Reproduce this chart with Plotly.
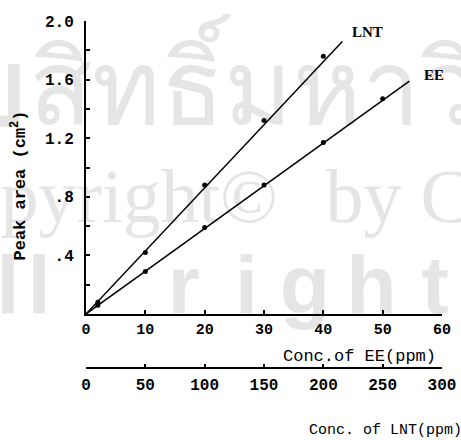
import plotly.graph_objects as go

# ---- data ----
ee_conc = [2, 10, 20, 30, 40, 50]                 # ppm EE
ee_area = [0.06, 0.29, 0.59, 0.88, 1.17, 1.47]     # cm^2
lnt_conc = [10, 50, 100, 150, 200]                # ppm LNT
lnt_area = [0.08, 0.42, 0.88, 1.32, 1.76]          # cm^2
ee_fit_x = [0, 54.5]
ee_fit_y = [0, 1.59]
lnt_fit_x = [0, 216]
lnt_fit_y = [0, 1.86]

ee_ticks = [0, 10, 20, 30, 40, 50, 60]
lnt_ticks = [0, 50, 100, 150, 200, 250, 300]
y_ticks = [0.4, 0.8, 1.2, 1.6, 2.0]
y_ticktext = [".4", ".8", "1.2", "1.6", "2.0"]

W, H = 461, 440
L, R, T, B = 86, 11, 21, 5
PH = H - T - B
def py(p):  # pixel row -> paper fraction
    return (H - B - p) / PH
def px(p):  # pixel column -> paper fraction
    return (p - L) / (W - L - R)

MONO = "Liberation Mono"
WM = "#e5e5e5"

fig = go.Figure()
line = dict(color="black", width=1.5)
mk = dict(color="black", size=5)
fig.add_trace(go.Scatter(x=ee_fit_x, y=ee_fit_y, mode="lines", line=line, xaxis="x", yaxis="y"))
fig.add_trace(go.Scatter(x=ee_conc, y=ee_area, mode="markers", marker=mk, xaxis="x", yaxis="y"))
fig.add_trace(go.Scatter(x=lnt_fit_x, y=lnt_fit_y, mode="lines", line=line, xaxis="x2", yaxis="y"))
fig.add_trace(go.Scatter(x=lnt_conc, y=lnt_area, mode="markers", marker=mk, xaxis="x2", yaxis="y"))

# faint scanned watermark, drawn beneath everything as labels of invisible shapes
def wm(text, x, y, xanchor, family, size, weight="normal"):
    fig.add_shape(type="rect", xref="paper", yref="paper",
                  x0=px(x), x1=px(x), y0=py(y), y1=py(y),
                  line=dict(width=0), fillcolor="rgba(0,0,0,0)", layer="below",
                  label=dict(text=text, textposition="middle center", xanchor=xanchor,
                             yanchor="middle", padding=0,
                             font=dict(family=family, size=size, color=WM, weight=weight)))

wm("ลิข", 26, 90, "right", "Noto Sans", 104, "bold")
wm("สิทธิ์มหาวิทยาลัยเชียงใหม่", 28, 90, "left", "Noto Sans", 104)
wm("Copyright©", 282, 188, "right", "Liberation Serif", 76)
wm("by Chiang Mai University", 331, 188, "left", "Liberation Serif", 76)
for ch, cx in [("l", 6), ("l", 38), ("r", 186), ("i", 250), ("g", 310), ("h", 378), ("t", 443)]:
    wm(ch, cx, 276, "center", "Liberation Sans", 82, "bold")

ann = []
# series labels
ann.append(dict(text="LNT", xref="x", yref="y", x=47.4, y=1.925, showarrow=False,
                xanchor="center", yanchor="middle",
                font=dict(family="Liberation Serif", size=15, weight="bold", color="black")))
ann.append(dict(text="EE", xref="x", yref="y", x=58.6, y=1.63, showarrow=False,
                xanchor="center", yanchor="middle",
                font=dict(family="Liberation Serif", size=15, weight="bold", color="black")))
# axis titles
ann.append(dict(text="Peak area (cm<sup>2</sup>)", xref="paper", yref="paper", x=px(17), y=py(186),
                textangle=-90, showarrow=False, xanchor="center", yanchor="middle",
                font=dict(family=MONO, size=17, weight="bold", color="black")))
ann.append(dict(text="Conc.of EE(ppm)", xref="paper", yref="paper", x=px(446), y=py(356),
                xanchor="right", yanchor="middle", showarrow=False,
                font=dict(family=MONO, size=17, color="black")))
ann.append(dict(text="Conc. of LNT(ppm)", xref="paper", yref="paper", x=px(473), y=py(430),
                xanchor="right", yanchor="middle", showarrow=False,
                font=dict(family=MONO, size=15, color="black")))

fig.update_layout(
    width=W, height=H, margin=dict(l=L, r=R, t=T, b=B, pad=0),
    paper_bgcolor="white", plot_bgcolor="rgba(0,0,0,0)", showlegend=False,
    annotations=ann,
    xaxis=dict(range=[0, 60], domain=[0, 1], anchor="y", tickvals=ee_ticks,
               ticks="inside", ticklen=4, tickwidth=1.5, tickcolor="black",
               showline=True, linewidth=2, linecolor="black", showgrid=False, zeroline=False,
               ticklabelstandoff=0, ticklabeloverflow="allow",
               tickfont=dict(family=MONO, size=15, weight="bold", color="black")),
    xaxis2=dict(range=[0, 300], domain=[0, 1], overlaying="x", anchor="free", position=py(368),
                side="bottom", tickvals=lnt_ticks,
                ticks="inside", ticklen=3, tickwidth=1.5, tickcolor="black",
                showline=True, linewidth=1.5, linecolor="black", showgrid=False, zeroline=False,
                ticklabelstandoff=2, ticklabeloverflow="allow",
                tickfont=dict(family=MONO, size=16, weight="bold", color="black")),
    yaxis=dict(range=[0, 2.0], domain=[py(314), 1], anchor="x", tickvals=y_ticks, ticktext=y_ticktext,
               ticks="inside", ticklen=4, tickwidth=1.5, tickcolor="black",
               minor=dict(dtick=0.2, tick0=0, ticks="inside", ticklen=4, tickwidth=1.5, tickcolor="black"),
               showline=True, linewidth=2, linecolor="black", showgrid=False, zeroline=False,
               ticklabelstandoff=7,
               tickfont=dict(family=MONO, size=16, weight="bold", color="black")),
)

fig.write_html("out.html")
